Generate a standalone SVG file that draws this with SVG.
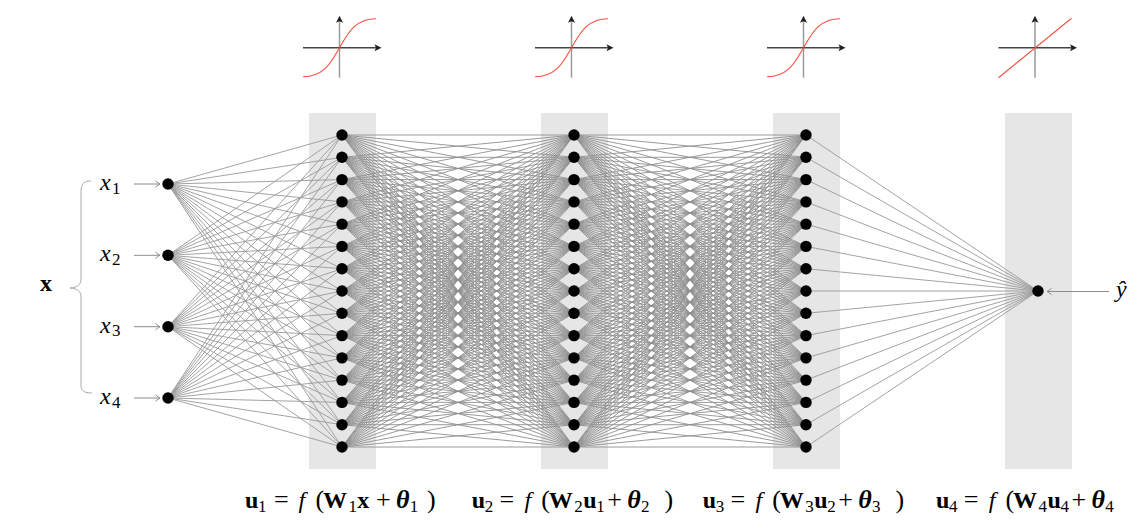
<svg xmlns="http://www.w3.org/2000/svg" xmlns:xlink="http://www.w3.org/1999/xlink" width="1132" height="520" viewBox="0 0 1132 520">
<style>
.band{fill:#e6e6e6}
.n{fill:#000}
.t{font-family:"Liberation Serif",serif;font-size:24px;fill:#000}
.s{font-size:17px}
.p{font-size:26px}
.o{font-size:26px}
.b{font-weight:bold}
.i{font-style:italic}
.ax{fill:none;stroke-width:1.5}
.sig{fill:none;stroke:#f2503f;stroke-width:1.1}
.arr{fill:none;stroke:#8c8c8c;stroke-width:1}
</style>
<defs>
<marker id="ah" markerUnits="userSpaceOnUse" markerWidth="10" markerHeight="10" viewBox="-6 -5 8 10" refX="0" refY="0" orient="auto">
<path d="M-4.5 -3.2Q-1.5 -0.6 0 0Q-1.5 0.6 -4.5 3.2" fill="none" stroke="#8c8c8c" stroke-width="1"/>
</marker>
<g id="axes">
<path class="ax" d="M0 30V-27" stroke="#9a9a9a"/>
<path d="M0 -32L-3.5 -25 0 -26.5 3.5 -25Z" fill="#222"/>
<path class="ax" d="M-36.5 0H37" stroke="#444"/>
<path d="M42 0L35 -3.5 36.5 0 35 3.5Z" fill="#222"/>
</g>
</defs>

<g id="bands">
<rect class="band" x="309" y="113" width="67" height="356"/>
<rect class="band" x="541" y="113" width="67" height="356"/>
<rect class="band" x="773" y="113" width="67" height="356"/>
<rect class="band" x="1005" y="113" width="67" height="356"/>
</g>

<g id="activations">
<g id="act1" transform="translate(339.5 47.7)"><use href="#axes"/><path class="sig" d="M-36.5 29C-14.5 29 -7.5 12.5 0 0C7.5 -12.5 14.5 -29 36.5 -29"/></g>
<g id="act2" transform="translate(571.5 47.7)"><use href="#axes"/><path class="sig" d="M-36.5 29C-14.5 29 -7.5 12.5 0 0C7.5 -12.5 14.5 -29 36.5 -29"/></g>
<g id="act3" transform="translate(803.5 47.7)"><use href="#axes"/><path class="sig" d="M-36.5 29C-14.5 29 -7.5 12.5 0 0C7.5 -12.5 14.5 -29 36.5 -29"/></g>
<g id="act4" transform="translate(1035 47.7)"><use href="#axes"/><path class="sig" d="M-36.5 30L36.5 -29.5"/></g>
</g>

<g id="connectors" fill="none" stroke="#8f8f8f" stroke-width="0.9" stroke-linejoin="round">
<g id="in-l1" stroke="#999">
<path d="M342 135L168 184 342 157.3M342 179.6L168 184 342 201.9M342 224.1L168 184 342 246.4M342 268.7L168 184 342 291M342 313.3L168 184 342 335.6M342 357.9L168 184 342 380.1M342 402.4L168 184 342 424.7M342 447L168 184"/>
<path d="M342 135L168 255.3 342 157.3M342 179.6L168 255.3 342 201.9M342 224.1L168 255.3 342 246.4M342 268.7L168 255.3 342 291M342 313.3L168 255.3 342 335.6M342 357.9L168 255.3 342 380.1M342 402.4L168 255.3 342 424.7M342 447L168 255.3"/>
<path d="M342 135L168 326.7 342 157.3M342 179.6L168 326.7 342 201.9M342 224.1L168 326.7 342 246.4M342 268.7L168 326.7 342 291M342 313.3L168 326.7 342 335.6M342 357.9L168 326.7 342 380.1M342 402.4L168 326.7 342 424.7M342 447L168 326.7"/>
<path d="M342 135L168 398 342 157.3M342 179.6L168 398 342 201.9M342 224.1L168 398 342 246.4M342 268.7L168 398 342 291M342 313.3L168 398 342 335.6M342 357.9L168 398 342 380.1M342 402.4L168 398 342 424.7M342 447L168 398"/>
</g>
<g id="l1-l2">
<path d="M574 135L342 135 574 157.3M574 179.6L342 135 574 201.9M574 224.1L342 135 574 246.4M574 268.7L342 135 574 291M574 313.3L342 135 574 335.6M574 357.9L342 135 574 380.1M574 402.4L342 135 574 424.7M574 447L342 135"/>
<path d="M574 135L342 157.3 574 157.3M574 179.6L342 157.3 574 201.9M574 224.1L342 157.3 574 246.4M574 268.7L342 157.3 574 291M574 313.3L342 157.3 574 335.6M574 357.9L342 157.3 574 380.1M574 402.4L342 157.3 574 424.7M574 447L342 157.3"/>
<path d="M574 135L342 179.6 574 157.3M574 179.6L342 179.6 574 201.9M574 224.1L342 179.6 574 246.4M574 268.7L342 179.6 574 291M574 313.3L342 179.6 574 335.6M574 357.9L342 179.6 574 380.1M574 402.4L342 179.6 574 424.7M574 447L342 179.6"/>
<path d="M574 135L342 201.9 574 157.3M574 179.6L342 201.9 574 201.9M574 224.1L342 201.9 574 246.4M574 268.7L342 201.9 574 291M574 313.3L342 201.9 574 335.6M574 357.9L342 201.9 574 380.1M574 402.4L342 201.9 574 424.7M574 447L342 201.9"/>
<path d="M574 135L342 224.1 574 157.3M574 179.6L342 224.1 574 201.9M574 224.1L342 224.1 574 246.4M574 268.7L342 224.1 574 291M574 313.3L342 224.1 574 335.6M574 357.9L342 224.1 574 380.1M574 402.4L342 224.1 574 424.7M574 447L342 224.1"/>
<path d="M574 135L342 246.4 574 157.3M574 179.6L342 246.4 574 201.9M574 224.1L342 246.4 574 246.4M574 268.7L342 246.4 574 291M574 313.3L342 246.4 574 335.6M574 357.9L342 246.4 574 380.1M574 402.4L342 246.4 574 424.7M574 447L342 246.4"/>
<path d="M574 135L342 268.7 574 157.3M574 179.6L342 268.7 574 201.9M574 224.1L342 268.7 574 246.4M574 268.7L342 268.7 574 291M574 313.3L342 268.7 574 335.6M574 357.9L342 268.7 574 380.1M574 402.4L342 268.7 574 424.7M574 447L342 268.7"/>
<path d="M574 135L342 291 574 157.3M574 179.6L342 291 574 201.9M574 224.1L342 291 574 246.4M574 268.7L342 291 574 291M574 313.3L342 291 574 335.6M574 357.9L342 291 574 380.1M574 402.4L342 291 574 424.7M574 447L342 291"/>
<path d="M574 135L342 313.3 574 157.3M574 179.6L342 313.3 574 201.9M574 224.1L342 313.3 574 246.4M574 268.7L342 313.3 574 291M574 313.3L342 313.3 574 335.6M574 357.9L342 313.3 574 380.1M574 402.4L342 313.3 574 424.7M574 447L342 313.3"/>
<path d="M574 135L342 335.6 574 157.3M574 179.6L342 335.6 574 201.9M574 224.1L342 335.6 574 246.4M574 268.7L342 335.6 574 291M574 313.3L342 335.6 574 335.6M574 357.9L342 335.6 574 380.1M574 402.4L342 335.6 574 424.7M574 447L342 335.6"/>
<path d="M574 135L342 357.9 574 157.3M574 179.6L342 357.9 574 201.9M574 224.1L342 357.9 574 246.4M574 268.7L342 357.9 574 291M574 313.3L342 357.9 574 335.6M574 357.9L342 357.9 574 380.1M574 402.4L342 357.9 574 424.7M574 447L342 357.9"/>
<path d="M574 135L342 380.1 574 157.3M574 179.6L342 380.1 574 201.9M574 224.1L342 380.1 574 246.4M574 268.7L342 380.1 574 291M574 313.3L342 380.1 574 335.6M574 357.9L342 380.1 574 380.1M574 402.4L342 380.1 574 424.7M574 447L342 380.1"/>
<path d="M574 135L342 402.4 574 157.3M574 179.6L342 402.4 574 201.9M574 224.1L342 402.4 574 246.4M574 268.7L342 402.4 574 291M574 313.3L342 402.4 574 335.6M574 357.9L342 402.4 574 380.1M574 402.4L342 402.4 574 424.7M574 447L342 402.4"/>
<path d="M574 135L342 424.7 574 157.3M574 179.6L342 424.7 574 201.9M574 224.1L342 424.7 574 246.4M574 268.7L342 424.7 574 291M574 313.3L342 424.7 574 335.6M574 357.9L342 424.7 574 380.1M574 402.4L342 424.7 574 424.7M574 447L342 424.7"/>
<path d="M574 135L342 447 574 157.3M574 179.6L342 447 574 201.9M574 224.1L342 447 574 246.4M574 268.7L342 447 574 291M574 313.3L342 447 574 335.6M574 357.9L342 447 574 380.1M574 402.4L342 447 574 424.7M574 447L342 447"/>
</g>
<use id="l2-l3" href="#l1-l2" x="232"/>
<path id="l3-out" stroke="#999" d="M806 135L1038 291 806 157.3M806 179.6L1038 291 806 201.9M806 224.1L1038 291 806 246.4M806 268.7L1038 291 806 291M806 313.3L1038 291 806 335.6M806 357.9L1038 291 806 380.1M806 402.4L1038 291 806 424.7M806 447L1038 291"/>
<g id="io-arrows" class="arr">
<path d="M134 184H160" marker-end="url(#ah)"/>
<path d="M134 255.3H160" marker-end="url(#ah)"/>
<path d="M134 326.7H160" marker-end="url(#ah)"/>
<path d="M134 398H160" marker-end="url(#ah)"/>
<path d="M1109 291.5H1047" marker-end="url(#ah)"/>
</g>
<path id="brace" d="M91 181C84 181 81 184 81 191L81 279C81 285 77 287.5 70 288C77 288.5 81 291 81 297L81 385C81 391 84 393 92 393" fill="none" stroke="#aaa" stroke-width="1"/>
</g>

<g id="nodes">
<g id="in1"><circle class="n" cx="168" cy="184" r="5.7"/></g>
<g id="in2"><circle class="n" cx="168" cy="255.3" r="5.7"/></g>
<g id="in3"><circle class="n" cx="168" cy="326.7" r="5.7"/></g>
<g id="in4"><circle class="n" cx="168" cy="398" r="5.7"/></g>
<g id="h1">
<g id="h1_1"><circle class="n" cx="342" cy="135" r="5.7"/></g>
<g id="h1_2"><circle class="n" cx="342" cy="157.3" r="5.7"/></g>
<g id="h1_3"><circle class="n" cx="342" cy="179.6" r="5.7"/></g>
<g id="h1_4"><circle class="n" cx="342" cy="201.9" r="5.7"/></g>
<g id="h1_5"><circle class="n" cx="342" cy="224.1" r="5.7"/></g>
<g id="h1_6"><circle class="n" cx="342" cy="246.4" r="5.7"/></g>
<g id="h1_7"><circle class="n" cx="342" cy="268.7" r="5.7"/></g>
<g id="h1_8"><circle class="n" cx="342" cy="291" r="5.7"/></g>
<g id="h1_9"><circle class="n" cx="342" cy="313.3" r="5.7"/></g>
<g id="h1_10"><circle class="n" cx="342" cy="335.6" r="5.7"/></g>
<g id="h1_11"><circle class="n" cx="342" cy="357.9" r="5.7"/></g>
<g id="h1_12"><circle class="n" cx="342" cy="380.1" r="5.7"/></g>
<g id="h1_13"><circle class="n" cx="342" cy="402.4" r="5.7"/></g>
<g id="h1_14"><circle class="n" cx="342" cy="424.7" r="5.7"/></g>
<g id="h1_15"><circle class="n" cx="342" cy="447" r="5.7"/></g>
</g>
<g id="h2">
<g id="h2_1"><circle class="n" cx="574" cy="135" r="5.7"/></g>
<g id="h2_2"><circle class="n" cx="574" cy="157.3" r="5.7"/></g>
<g id="h2_3"><circle class="n" cx="574" cy="179.6" r="5.7"/></g>
<g id="h2_4"><circle class="n" cx="574" cy="201.9" r="5.7"/></g>
<g id="h2_5"><circle class="n" cx="574" cy="224.1" r="5.7"/></g>
<g id="h2_6"><circle class="n" cx="574" cy="246.4" r="5.7"/></g>
<g id="h2_7"><circle class="n" cx="574" cy="268.7" r="5.7"/></g>
<g id="h2_8"><circle class="n" cx="574" cy="291" r="5.7"/></g>
<g id="h2_9"><circle class="n" cx="574" cy="313.3" r="5.7"/></g>
<g id="h2_10"><circle class="n" cx="574" cy="335.6" r="5.7"/></g>
<g id="h2_11"><circle class="n" cx="574" cy="357.9" r="5.7"/></g>
<g id="h2_12"><circle class="n" cx="574" cy="380.1" r="5.7"/></g>
<g id="h2_13"><circle class="n" cx="574" cy="402.4" r="5.7"/></g>
<g id="h2_14"><circle class="n" cx="574" cy="424.7" r="5.7"/></g>
<g id="h2_15"><circle class="n" cx="574" cy="447" r="5.7"/></g>
</g>
<g id="h3">
<g id="h3_1"><circle class="n" cx="806" cy="135" r="5.7"/></g>
<g id="h3_2"><circle class="n" cx="806" cy="157.3" r="5.7"/></g>
<g id="h3_3"><circle class="n" cx="806" cy="179.6" r="5.7"/></g>
<g id="h3_4"><circle class="n" cx="806" cy="201.9" r="5.7"/></g>
<g id="h3_5"><circle class="n" cx="806" cy="224.1" r="5.7"/></g>
<g id="h3_6"><circle class="n" cx="806" cy="246.4" r="5.7"/></g>
<g id="h3_7"><circle class="n" cx="806" cy="268.7" r="5.7"/></g>
<g id="h3_8"><circle class="n" cx="806" cy="291" r="5.7"/></g>
<g id="h3_9"><circle class="n" cx="806" cy="313.3" r="5.7"/></g>
<g id="h3_10"><circle class="n" cx="806" cy="335.6" r="5.7"/></g>
<g id="h3_11"><circle class="n" cx="806" cy="357.9" r="5.7"/></g>
<g id="h3_12"><circle class="n" cx="806" cy="380.1" r="5.7"/></g>
<g id="h3_13"><circle class="n" cx="806" cy="402.4" r="5.7"/></g>
<g id="h3_14"><circle class="n" cx="806" cy="424.7" r="5.7"/></g>
<g id="h3_15"><circle class="n" cx="806" cy="447" r="5.7"/></g>
</g>
<g id="out"><circle class="n" cx="1038" cy="291" r="5.7"/></g>
</g>

<g id="labels">
<text class="t" x="100" y="190"><tspan class="i">x</tspan><tspan class="s" x="112" dy="3.5">1</tspan></text>
<text class="t" x="100" y="261.3"><tspan class="i">x</tspan><tspan class="s" x="112" dy="3.5">2</tspan></text>
<text class="t" x="100" y="332.7"><tspan class="i">x</tspan><tspan class="s" x="112" dy="3.5">3</tspan></text>
<text class="t" x="100" y="404"><tspan class="i">x</tspan><tspan class="s" x="112" dy="3.5">4</tspan></text>
<text class="t b" x="40" y="291" font-size="25">x</text>
<text class="t i" x="1116" y="297" font-size="23">ŷ</text>
<text class="t" y="508"><tspan class="b" x="245">u</tspan><tspan class="s" x="258" dy="4">1</tspan><tspan class="o" x="274" dy="-4">=</tspan><tspan class="i" x="298.5">f</tspan><tspan class="p" x="315.5">(</tspan><tspan class="b" x="323">W</tspan><tspan class="s" x="348.5" dy="4">1</tspan><tspan class="b" x="357.2" dy="-4">x</tspan><tspan class="o" x="376">+</tspan><tspan class="b i o" x="396">θ</tspan><tspan class="s" x="409.7" dy="4">1</tspan><tspan class="p" x="427" dy="-4">)</tspan></text>
<text class="t" y="508"><tspan class="b" x="471.7">u</tspan><tspan class="s" x="484.7" dy="4">2</tspan><tspan class="o" x="499.5" dy="-4">=</tspan><tspan class="i" x="524.5">f</tspan><tspan class="p" x="541.2">(</tspan><tspan class="b" x="548.7">W</tspan><tspan class="s" x="574.2" dy="4">2</tspan><tspan class="b" x="583.2" dy="-4">u</tspan><tspan class="s" x="596.2" dy="4">1</tspan><tspan class="o" x="607.2" dy="-4">+</tspan><tspan class="b i o" x="627.2">θ</tspan><tspan class="s" x="641" dy="4">2</tspan><tspan class="p" x="664.5" dy="-4">)</tspan></text>
<text class="t" y="508"><tspan class="b" x="702.7">u</tspan><tspan class="s" x="715.7" dy="4">3</tspan><tspan class="o" x="730.5" dy="-4">=</tspan><tspan class="i" x="755.5">f</tspan><tspan class="p" x="772.2">(</tspan><tspan class="b" x="779.7">W</tspan><tspan class="s" x="805.2" dy="4">3</tspan><tspan class="b" x="814.2" dy="-4">u</tspan><tspan class="s" x="827.2" dy="4">2</tspan><tspan class="o" x="838.2" dy="-4">+</tspan><tspan class="b i o" x="858.2">θ</tspan><tspan class="s" x="872" dy="4">3</tspan><tspan class="p" x="895.5" dy="-4">)</tspan></text>
<text class="t" y="508"><tspan class="b" x="936">u</tspan><tspan class="s" x="949" dy="4">4</tspan><tspan class="o" x="963.8" dy="-4">=</tspan><tspan class="i" x="988.8">f</tspan><tspan class="p" x="1005.5">(</tspan><tspan class="b" x="1013">W</tspan><tspan class="s" x="1038.5" dy="4">4</tspan><tspan class="b" x="1047.5" dy="-4">u</tspan><tspan class="s" x="1060.5" dy="4">4</tspan><tspan class="o" x="1071.5" dy="-4">+</tspan><tspan class="b i o" x="1091.5">θ</tspan><tspan class="s" x="1105.3" dy="4">4</tspan></text>
</g>
</svg>
